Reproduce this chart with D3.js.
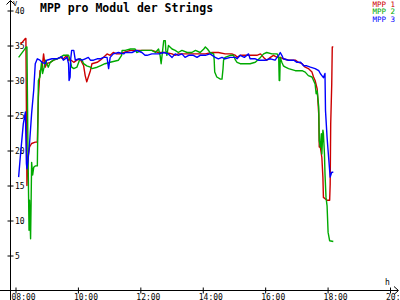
<!DOCTYPE html>
<html>
<head>
<meta charset="utf-8">
<script src="https://cdn.jsdelivr.net/npm/d3@7"></script>
<style>
  body { margin: 0; background: #fff; }
  svg { display: block; }
</style>
</head>
<body>
<div id="wrapper"></div>
<script>
// MPP 1 (red)
const mpp1Time = ["08:10","08:19","08:20","08:22","08:24","08:27","08:31","08:38","08:42","08:44","08:47","08:51","08:54","08:57","09:00","09:07","09:13","09:20","09:26","09:32","09:39","09:42","09:45","09:52","09:58","10:04","10:11","10:14","10:17","10:20","10:24","10:27","10:37","10:43","10:49","10:56","11:02","11:08","11:14","11:21","11:28","11:41","11:53","12:06","12:19","12:22","12:35","12:48","13:01","13:07","13:13","13:26","13:39","13:52","14:05","14:18","14:30","14:43","14:56","15:03","15:06","15:12","15:31","15:44","15:51","15:57","16:03","16:10","16:16","16:23","16:29","16:35","16:45","16:58","17:04","17:11","17:17","17:23","17:30","17:33","17:36","17:40","17:43","17:44","17:46","17:49","17:51","17:52","17:59","18:04","18:05","18:06","18:08","18:09","18:11"];
const mpp1 = [35.2,36.0,36.0,15.0,19.0,20.5,21.0,21.2,21.2,27.6,31.4,31.7,33.8,31.9,32.4,32.6,32.9,33.1,33.3,33.1,33.6,32.9,33.0,32.6,32.9,33.1,32.1,30.7,29.8,30.5,31.4,32.4,32.6,32.9,33.3,33.8,33.6,34.0,33.8,33.8,34.0,34.3,34.3,34.3,34.3,34.3,34.0,34.0,33.8,33.6,33.8,33.8,33.8,33.8,33.8,34.0,34.0,33.8,33.8,33.6,33.3,33.6,33.6,33.6,33.8,33.3,32.9,33.3,33.6,33.3,33.3,33.1,32.9,32.9,32.6,32.4,31.9,31.7,31.2,30.5,30.0,28.8,25.2,20.5,20.5,19.0,16.2,13.3,12.9,12.9,15.2,23.8,29.5,34.8,34.8];

// MPP 2 (green)
const mpp2Time = ["08:06","08:21","08:22","08:24","08:26","08:27","08:29","08:30","08:31","08:33","08:35","08:38","08:42","08:44","08:47","08:50","08:52","08:55","08:58","09:03","09:07","09:13","09:20","09:26","09:32","09:42","09:45","09:48","09:52","09:58","10:04","10:08","10:11","10:17","10:24","10:27","10:37","10:43","10:52","11:02","11:18","11:24","11:25","11:31","11:41","11:50","11:53","12:03","12:13","12:22","12:29","12:35","12:38","12:40","12:45","12:48","12:49","12:51","12:54","13:01","13:07","13:13","13:20","13:30","13:39","13:46","13:55","14:02","14:05","14:09","14:14","14:21","14:22","14:23","14:27","14:34","14:37","14:39","14:40","14:43","14:53","14:59","15:03","15:06","15:12","15:31","15:41","15:51","15:57","16:03","16:13","16:23","16:26","16:27","16:28","16:29","16:32","16:35","16:39","16:45","16:58","17:11","17:17","17:23","17:30","17:36","17:38","17:40","17:43","17:44","17:46","17:48","17:49","17:51","17:52","17:54","17:55","17:57","17:59","18:01","18:04","18:11"];
const mpp2 = [33.3,34.8,34.8,20.0,8.6,12.9,7.4,12.5,18.3,16.5,17.6,17.8,17.8,30.0,30.5,32.6,31.0,31.9,32.9,31.9,32.6,32.9,33.1,33.3,33.6,33.6,32.9,31.9,31.7,31.9,33.1,32.9,32.4,32.1,31.9,31.7,31.9,32.1,32.4,32.6,32.9,33.6,34.3,34.3,34.5,34.5,34.0,34.3,34.3,34.3,34.0,34.5,33.6,32.4,35.7,35.7,34.3,33.6,35.0,34.5,34.3,34.0,34.3,34.0,34.0,34.3,34.0,34.5,34.8,34.5,34.0,33.8,32.9,31.2,30.5,30.2,30.2,31.7,32.9,33.3,33.6,33.6,32.9,32.6,32.4,32.4,32.6,33.3,33.8,34.0,33.8,33.8,33.3,30.0,30.0,33.3,32.6,32.1,31.9,31.7,31.4,31.4,31.2,30.7,30.5,29.5,28.1,28.5,26.2,21.4,20.5,22.4,19.5,22.9,22.4,19.5,16.7,13.3,12.1,8.3,7.1,7.0];

// MPP 3 (blue)
const mpp3Time = ["08:06","08:09","08:15","08:19","08:21","08:22","08:24","08:27","08:31","08:35","08:38","08:42","08:47","08:51","08:57","09:00","09:10","09:20","09:29","09:32","09:39","09:42","09:43","09:45","09:46","09:48","09:52","09:55","10:01","10:08","10:14","10:20","10:24","10:30","10:37","10:43","10:49","10:56","10:59","11:02","11:08","11:18","11:28","11:31","11:44","11:53","12:03","12:09","12:13","12:22","12:35","12:45","12:54","13:01","13:07","13:13","13:20","13:26","13:33","13:42","13:49","13:55","14:05","14:14","14:24","14:30","14:37","14:43","14:53","15:03","15:06","15:12","15:20","15:28","15:31","15:41","15:47","15:57","16:00","16:10","16:19","16:26","16:29","16:32","16:35","16:45","16:55","17:01","17:08","17:14","17:20","17:27","17:36","17:43","17:46","17:49","17:52","17:55","17:56","17:59","18:02","18:05","18:08","18:11"];
const mpp3 = [16.2,18.9,23.8,25.5,18.1,17.4,18.5,21.0,25.3,28.6,32.4,33.1,32.9,32.6,32.4,32.9,33.1,33.1,33.4,32.9,33.3,32.4,30.0,30.5,33.0,34.3,34.3,32.9,33.1,32.9,33.1,33.3,32.9,32.9,33.1,33.1,33.3,33.3,31.7,33.3,33.8,34.0,33.8,34.0,34.0,34.3,34.0,33.6,33.6,33.8,33.8,34.0,33.8,33.3,33.8,33.6,33.8,33.3,33.6,33.6,33.3,33.6,33.6,33.8,33.3,33.1,33.3,33.1,33.3,33.3,33.1,33.6,33.3,33.8,33.1,33.1,32.9,32.9,32.9,33.1,32.9,33.6,34.0,33.6,33.1,32.9,32.9,32.6,32.6,32.1,32.1,31.9,31.7,31.4,31.0,30.7,30.4,31.0,25.7,21.9,19.0,16.2,16.9,16.9];

const seriesNames = ["MPP 1", "MPP 2", "MPP 3"];
const seriesColors = ["#cc0000", "#00aa00", "#0000ff"];
const xTickLabels = ["08:00","10:00","12:00","14:00","16:00","18:00","20:00"];
const yTickValues = [5, 10, 15, 20, 25, 30, 35, 40];

const parseTime = d3.timeParse("%H:%M");
const monoFont = "'DejaVu Sans Mono', 'Liberation Mono', monospace";

function drawChart() {
    const width = 400
    const height = 300
    // axis positions in pixels
    const axisX = 10.5
    const axisY = 290.5

    const svg = d3.select("#wrapper")
        .html("")
        .append("svg")
        .attr("width", width)
        .attr("height", height)

    const xScale = d3.scaleTime()
        .domain([parseTime("08:00"), parseTime("20:00")])
        .range([15.5, 390])

    const yScale = d3.scaleLinear()
        .domain([0, 40])
        .range([axisY, 10.5])

    // axes lines + arrows
    svg.append("line")
        .attr("x1", 0).attr("x2", 398)
        .attr("y1", axisY).attr("y2", axisY)
        .attr("stroke", "black")
    svg.append("path")
        .attr("d", `M394,${axisY - 4}L398.5,${axisY}L394,${axisY + 4}`)
        .attr("fill", "none").attr("stroke", "black")
    svg.append("line")
        .attr("x1", axisX).attr("x2", axisX)
        .attr("y1", 0.5).attr("y2", height)
        .attr("stroke", "black")
    svg.append("path")
        .attr("d", `M${axisX - 4},4.5L${axisX},0.5L${axisX + 4},4.5`)
        .attr("fill", "none").attr("stroke", "black")

    // x axis
    const xAxisGen = d3.axisBottom(xScale)
        .tickValues(xTickLabels.map(parseTime))
        .tickFormat(d3.timeFormat("%H:%M"))
        .tickSize(3)
        .tickPadding(0)
    const xAxis = svg.append("g")
        .attr("transform", `translate(0,${axisY})`)
        .call(xAxisGen)
    xAxis.select(".domain").remove()
    xAxis.selectAll(".tick line").attr("y1", -3).attr("y2", 3).attr("stroke", "black")
    xAxis.selectAll(".tick text")
        .attr("x", -4.5)
        .attr("y", 9)
        .attr("dy", 0)
        .attr("text-anchor", "start")
        .attr("font-family", monoFont)
        .attr("font-size", "8px")
        .attr("fill", "black")

    // y axis
    const yAxisGen = d3.axisRight(yScale)
        .tickValues(yTickValues)
        .tickSize(3)
    const yAxis = svg.append("g")
        .attr("transform", `translate(${axisX},0)`)
        .call(yAxisGen)
    yAxis.select(".domain").remove()
    yAxis.selectAll(".tick line").attr("x1", -3).attr("x2", 3).attr("stroke", "black")
    yAxis.selectAll(".tick text")
        .attr("x", 4.5)
        .attr("dy", "0.4em")
        .attr("font-family", monoFont)
        .attr("font-size", "8px")
        .attr("fill", "black")

    // axis units
    svg.append("text")
        .attr("x", 13).attr("y", 6)
        .text("V")
        .attr("font-family", monoFont).attr("font-size", "7px")
    svg.append("text")
        .attr("x", 385).attr("y", 285)
        .text("h")
        .attr("font-family", monoFont).attr("font-size", "8px")

    // title
    svg.append("text")
        .attr("x", 40).attr("y", 12)
        .text("MPP pro Modul der Strings")
        .attr("font-family", monoFont)
        .attr("font-weight", "bold")
        .attr("font-size", "11.5px")

    // lines
    const times = [mpp1Time, mpp2Time, mpp3Time]
    const values = [mpp1, mpp2, mpp3]
    const lineGen = d3.line()
        .x(d => xScale(d.t))
        .y(d => yScale(d.v))

    values.forEach((vals, i) => {
        const data = vals.map((v, j) => ({ t: parseTime(times[i][j]), v: v }))
        svg.append("path")
            .datum(data)
            .attr("d", lineGen)
            .attr("fill", "none")
            .attr("stroke", seriesColors[i])
            .attr("stroke-width", 1.4)
            .attr("stroke-linejoin", "round")
    })

    // legend
    svg.append("g")
        .selectAll("text")
        .data(seriesNames)
        .enter()
        .append("text")
        .attr("x", 395)
        .attr("y", (d, i) => 6.8 + i * 7.5)
        .attr("text-anchor", "end")
        .attr("font-family", monoFont)
        .attr("font-size", "7.5px")
        .attr("fill", (d, i) => seriesColors[i])
        .text(d => d)
}

drawChart();
</script>
</body>
</html>
